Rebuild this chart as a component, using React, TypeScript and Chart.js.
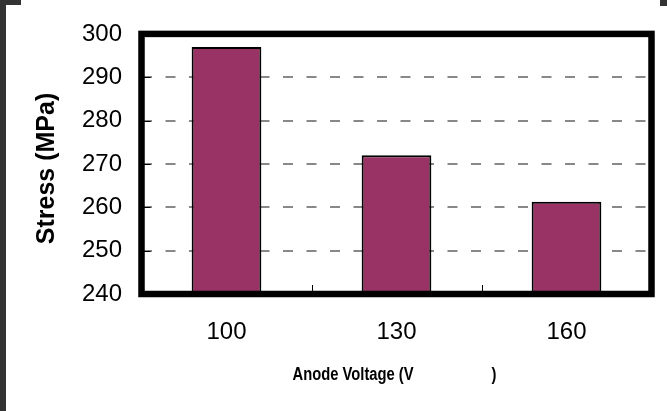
import { useEffect, useRef } from 'react';
import { Chart, registerables } from 'chart.js';

Chart.register(...registerables);

// Residual stress at each anode voltage
const voltages = ['100', '130', '160'];
const stressMPa = [297, 272, 261.3];

const yMin = 240;
const yMax = 300;
const yStep = 10;

const xTitle = 'Anode Voltage (V                   )';
const yTitle = 'Stress (MPa)';

const W = 667;
const H = 411;
const FONT = "'Liberation Sans', Arial, sans-serif";
// horizontal squeeze that gives the axis title a narrow-face look
const NARROW_SCALE = 0.82;

const framePlugin = {
  id: 'frame',
  beforeDraw(chart: Chart) {
    const { ctx, width, height } = chart;
    ctx.save();
    ctx.fillStyle = '#ffffff';
    ctx.fillRect(0, 0, width, height);
    // dark page edges
    ctx.fillStyle = '#333333';
    ctx.fillRect(0, 0, 21, 5);
    ctx.fillRect(0, 0, 6, height);
    ctx.fillRect(width - 7, 0, 7, 6);
    ctx.restore();
  },
  afterDatasetsDraw(chart: Chart) {
    const { ctx, chartArea } = chart;
    const { left, right, top, bottom } = chartArea;
    const yScale = chart.scales.y;
    const xScale = chart.scales.x;
    ctx.save();
    ctx.strokeStyle = '#000000';
    // inward tick marks on the value axis
    ctx.lineWidth = 1;
    yScale.ticks.forEach((t) => {
      const y = Math.round(yScale.getPixelForValue(t.value)) + 0.5;
      ctx.beginPath();
      ctx.moveTo(left, y);
      ctx.lineTo(left + 9, y);
      ctx.stroke();
    });
    // inward tick marks between categories
    const n = voltages.length;
    for (let i = 1; i < n; i++) {
      const x = Math.round((xScale.getPixelForValue(i - 1) + xScale.getPixelForValue(i)) / 2) + 0.5;
      ctx.beginPath();
      ctx.moveTo(x, bottom);
      ctx.lineTo(x, bottom - 9);
      ctx.stroke();
    }
    // heavy plot frame
    ctx.lineWidth = 6.5;
    ctx.strokeRect(left, top, right - left, bottom - top);
    ctx.restore();
  },
  afterDraw(chart: Chart) {
    const { ctx, chartArea } = chart;
    ctx.save();
    ctx.fillStyle = '#000000';
    // value axis title
    ctx.font = `bold 25px ${FONT}`;
    ctx.textAlign = 'center';
    ctx.textBaseline = 'middle';
    ctx.translate(47, 168.5);
    ctx.rotate(-Math.PI / 2);
    ctx.fillText(yTitle, 0, 0);
    ctx.restore();

    // category axis title
    ctx.save();
    ctx.fillStyle = '#000000';
    ctx.font = `bold 18px ${FONT}`;
    ctx.textAlign = 'center';
    ctx.textBaseline = 'alphabetic';
    ctx.translate((chartArea.left + chartArea.right) / 2 - 2, 380);
    ctx.scale(NARROW_SCALE, 1);
    ctx.fillText(xTitle, 0, 0);
    ctx.restore();
  },
};

export default function App() {
  const canvasRef = useRef<HTMLCanvasElement | null>(null);

  useEffect(() => {
    const canvas = canvasRef.current;
    if (!canvas) return;
    const chart = new Chart(canvas, {
      type: 'bar',
      data: {
        labels: voltages,
        datasets: [
          {
            data: stressMPa,
            backgroundColor: '#993366',
            borderColor: '#000000',
            borderWidth: 2,
            barPercentage: 0.41,
            categoryPercentage: 1,
          },
        ],
      },
      options: {
        responsive: false,
        animation: false,
        devicePixelRatio: 1,
        layout: { padding: { top: 30, right: 15.5, bottom: 0, left: 0 } },
        plugins: {
          legend: { display: false },
          tooltip: { enabled: false },
        },
        scales: {
          x: {
            grid: { display: false, drawTicks: false },
            border: { display: false },
            ticks: {
              color: '#000000',
              padding: 24,
              maxRotation: 0,
              font: { size: 24, family: FONT },
            },
            afterFit: (s: any) => {
              s.height = 117;
            },
          },
          y: {
            min: yMin,
            max: yMax,
            ticks: {
              stepSize: yStep,
              color: '#000000',
              padding: 19.5,
              font: { size: 24, family: FONT },
            },
            grid: {
              drawTicks: false,
              lineWidth: 2,
              color: (c: any) =>
                c.tick && (c.tick.value === yMin || c.tick.value === yMax) ? 'rgba(0,0,0,0)' : '#888888',
            },
            border: { display: false, dash: [10, 13.5] },
            afterFit: (s: any) => {
              s.width = 141.5;
            },
          },
        },
      },
      plugins: [framePlugin],
    });
    return () => chart.destroy();
  }, []);

  return (
    <div style={{ position: 'absolute', left: 0, top: 0, width: W, height: H }}>
      <canvas ref={canvasRef} width={W} height={H} style={{ display: 'block', width: W, height: H }} />
    </div>
  );
}
